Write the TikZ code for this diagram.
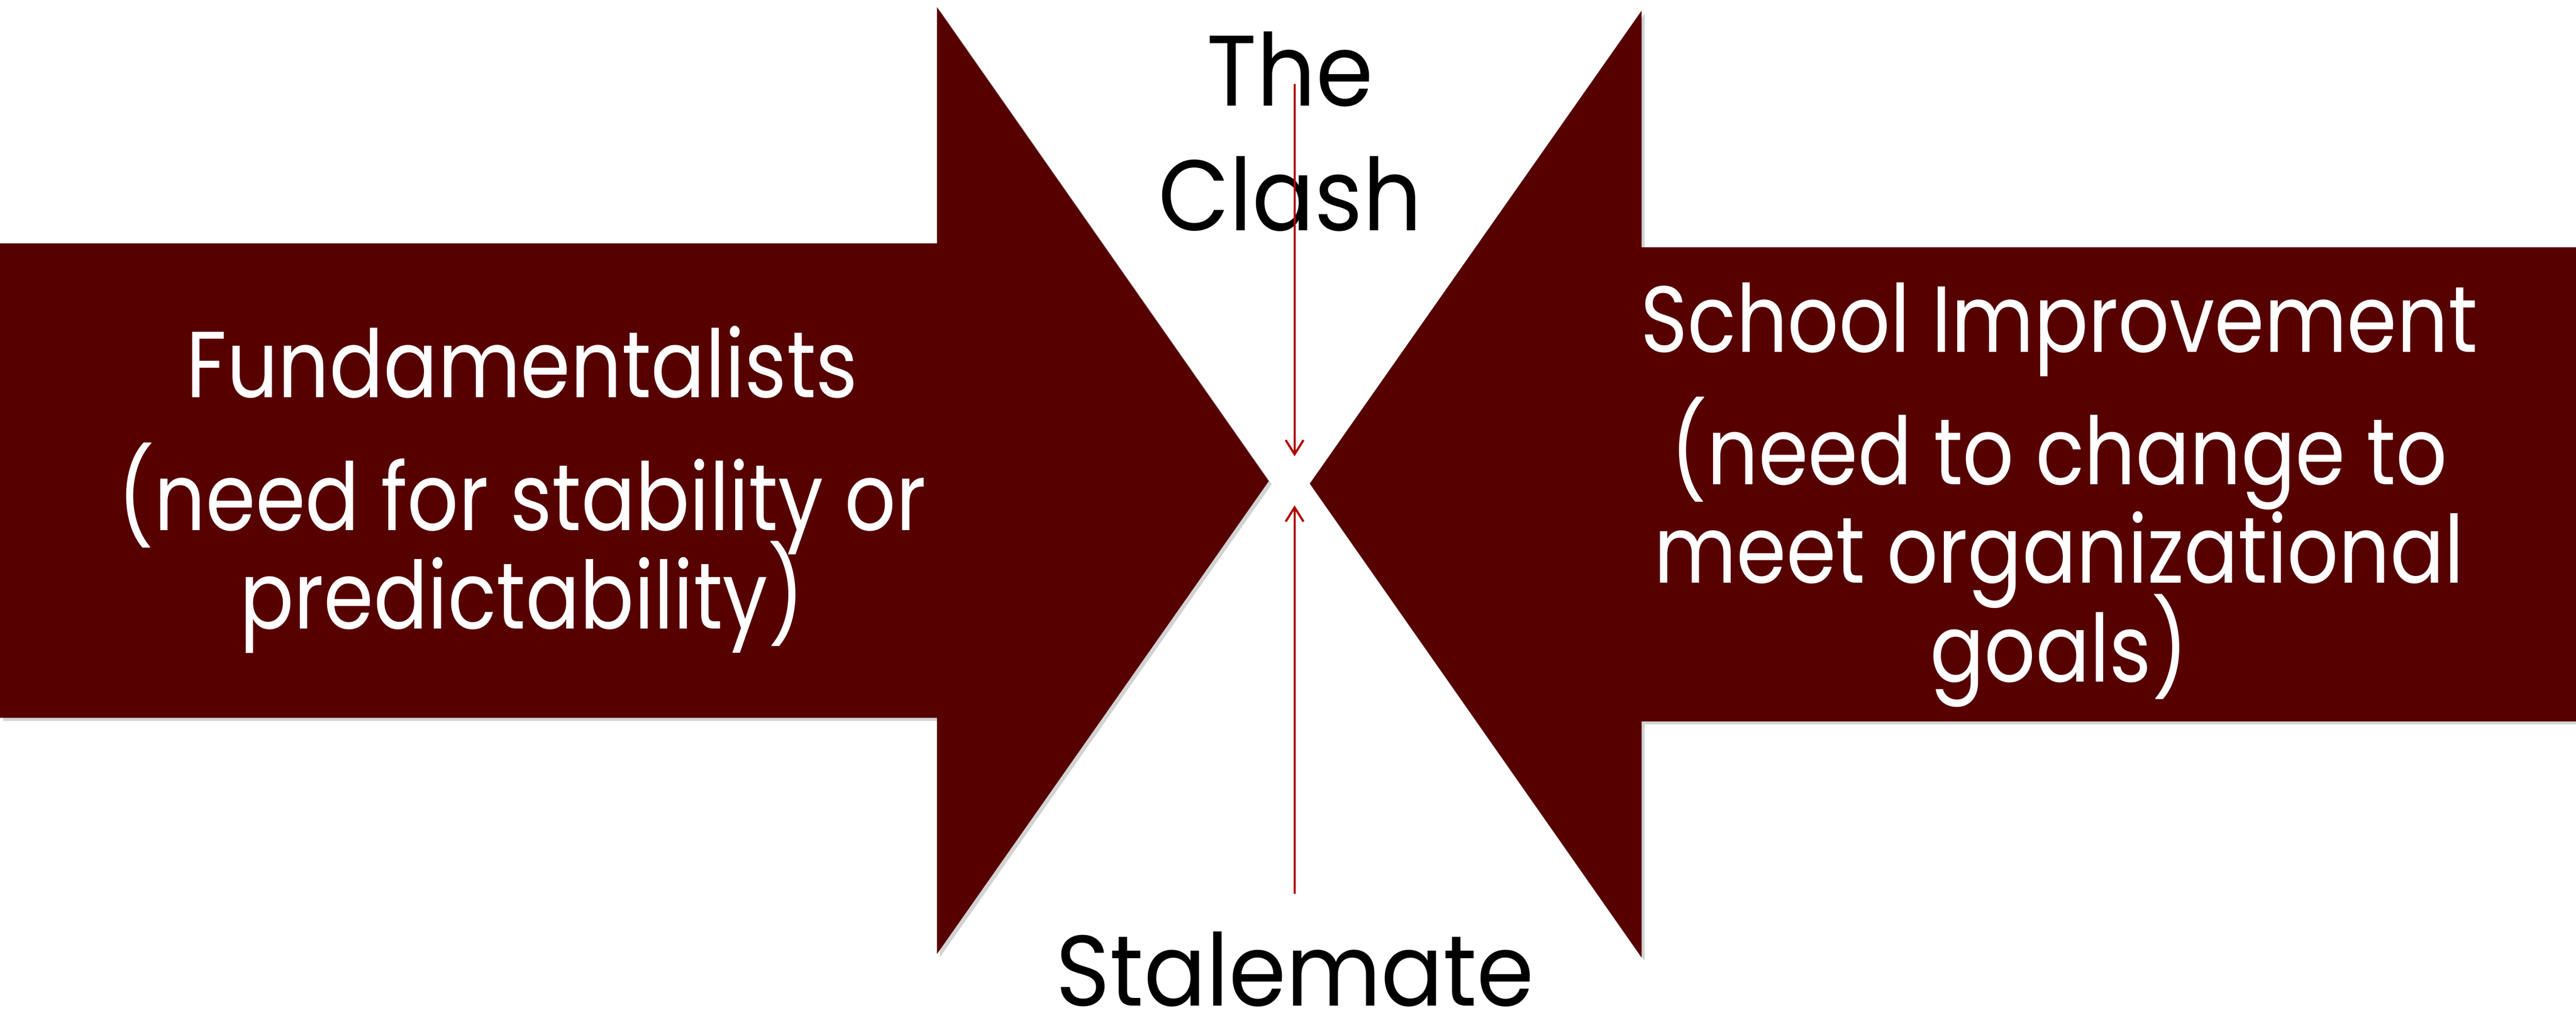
\documentclass[tikz,border=0pt]{standalone}
\usepackage{fontspec}
\setmainfont{Poppins}
\newfontfamily\sidefont[FakeStretch=0.855]{Poppins}
\newfontfamily\midfont[FakeStretch=0.92]{Poppins}
\newcommand\tightlines{\setlength{\lineskiplimit}{-100pt}}
\usetikzlibrary{arrows.meta,shadows}
\definecolor{maroon}{HTML}{560000}
\definecolor{clashred}{HTML}{B00000}
\tikzset{
  bigarrow/.style={fill=maroon, drop shadow={opacity=.35, shadow xshift=.03, shadow yshift=-.03}},
  sidetext/.style={text=white, align=center, font=\sidefont\fontsize{26.4}{27.7}\selectfont\tightlines},
  midtext/.style={text=black, align=center, font=\midfont\fontsize{28.2}{35}\selectfont\tightlines},
  clashline/.style={line width=.6pt, clashred, -{Straight Barb[length=4pt,width=5pt]}}
}
\begin{document}
\begin{tikzpicture}
		\useasboundingbox (0,0) rectangle (25.46,10.06);
		% the two arrows
		\filldraw [bigarrow, draw=none] (0,2.965) -- (0,7.655) -- (9.26,7.655) -- (9.26,9.99)
			-- (12.54,5.305) -- (9.26,0.63) -- (9.26,2.965) -- cycle;
		\filldraw [bigarrow, draw=none] (25.46,2.93) -- (25.46,7.615) -- (16.225,7.615) -- (16.225,9.955)
			-- (12.945,5.28) -- (16.225,0.595) -- (16.225,2.93) -- cycle;
		% texts
		\node [sidetext] (fund) at (5.16,5.22) {Fundamentalists\\[9.6pt] (need for stability or\\ predictability)};
		\node [sidetext] (school) at (20.35,5.17) {School Improvement\\[9.6pt] (need to change to\\ meet organizational\\ goals)};
		\node [midtext] (clash) at (12.75,8.76) {The\\ Clash};
		\node [midtext, anchor=base, inner sep=0pt] (stalemate) at (12.8,0.12) {Stalemate};
		% clash lines
		\coordinate (clashtop) at (12.795,9.23);
		\coordinate (clashend) at (12.795,5.55);
		\coordinate (stalebot) at (12.795,1.225);
		\coordinate (staleend) at (12.795,5.065);
		\draw [clashline] (clashtop) -- (clashend);
		\draw [clashline] (stalebot) -- (staleend);
	\end{tikzpicture}
\end{document}
